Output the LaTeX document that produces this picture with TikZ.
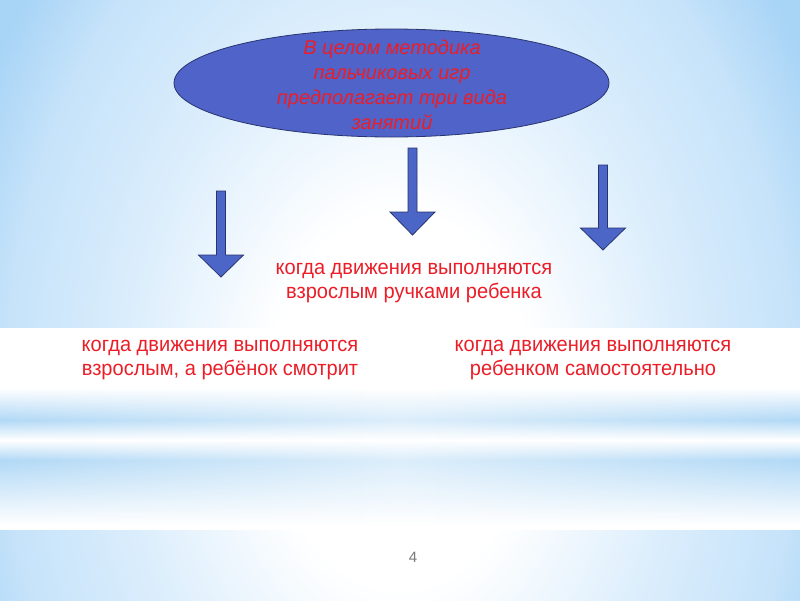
\documentclass[tikz,border=0pt]{standalone}
\usepackage{fontspec}
\setmainfont{Liberation Sans}
\newfontfamily\slidefont[FakeStretch=0.955]{Liberation Sans}
\newfontfamily\ellfont[FakeStretch=1.0]{Liberation Sans}
\usetikzlibrary{fadings,shapes.geometric}
\definecolor{bgwhite}{RGB}{255,255,255}
\definecolor{bgpale}{RGB}{218,237,252}
\definecolor{bgmid}{RGB}{198,227,250}
\definecolor{bgblue}{RGB}{168,212,246}
\definecolor{bgdeep}{RGB}{158,206,245}
\definecolor{stripeblue}{RGB}{178,217,246}
\definecolor{ellfill}{RGB}{79,99,201}
\definecolor{arrfill}{RGB}{76,102,200}
\definecolor{navy}{RGB}{40,52,110}
\definecolor{txtred}{RGB}{235,30,40}
\definecolor{pagegray}{RGB}{120,120,120}
\pgfdeclareradialshading{slidebg}{\pgfpoint{0bp}{0bp}}{color(0bp)=(bgwhite); color(7bp)=(bgwhite); color(15bp)=(bgpale); color(21bp)=(bgmid); color(25bp)=(bgblue); color(50bp)=(bgdeep)}
\tikzfading[name=midfade, left color=transparent!100, right color=transparent!100, middle color=transparent!45]
\newcommand\mydownarrow[4]{% centre x, shaft top, head top, tip
  \draw[blockarrow] (#1-4.5,#2) -- (#1+4.5,#2) -- (#1+4.5,#3) -- (#1+22.5,#3) -- (#1,#4) -- (#1-22.5,#3) -- (#1-4.5,#3) -- cycle;}
\tikzset{
  blockarrow/.style={fill=arrfill, draw=navy, line width=0.8pt, line join=miter},
  redtext/.style={text=txtred, align=center, inner sep=0pt, font=\slidefont\fontsize{21}{24.5}\selectfont},
}
\begin{document}
\begin{tikzpicture}[x=1pt,y=-1pt]
\useasboundingbox (0,0) rectangle (800,600);
% background
\begin{scope}
\clip (0,0) rectangle (800,600);
\shade[shading=slidebg] (-70,-267) rectangle (870,1067);
% white band
\fill[white] (0,328) rectangle (800,530);
\shade[top color=white, bottom color=stripeblue] (0,388) rectangle (800,420);
\shade[top color=stripeblue, bottom color=white] (0,420) rectangle (800,440);
\shade[top color=white, bottom color=stripeblue] (0,440) rectangle (800,460);
\shade[top color=stripeblue, bottom color=white] (0,460) rectangle (800,525);
\fill[white, path fading=midfade] (0,385) rectangle (800,530);
\end{scope}
% ellipse
\node[ellipse, fill=ellfill, draw=navy, line width=0.8pt, minimum width=435pt, minimum height=108pt, inner sep=0pt] (ell) at (391.5,83) {};
\node[text=txtred, align=center, inner sep=0pt, font=\ellfont\itshape\fontsize{20}{25}\selectfont] (elltext) at (392,85) {В целом методика\\пальчиковых игр\\предполагает три вида\\занятий};
% arrows
\mydownarrow{221}{191}{255}{277}
\mydownarrow{412.5}{148}{212}{235}
\mydownarrow{603}{165}{228}{250}
% texts
\node[redtext] (mid) at (414,283) {когда движения выполняются\\взрослым ручками ребенка};
\node[redtext] (left) at (220,360) {когда движения выполняются\\взрослым, а ребёнок смотрит};
\node[redtext] (right) at (593,360) {когда движения выполняются\\ребенком самостоятельно};
\node[text=pagegray, inner sep=0pt, font=\fontsize{15}{17}\selectfont] (page) at (413,557) {4};
\end{tikzpicture}
\end{document}
